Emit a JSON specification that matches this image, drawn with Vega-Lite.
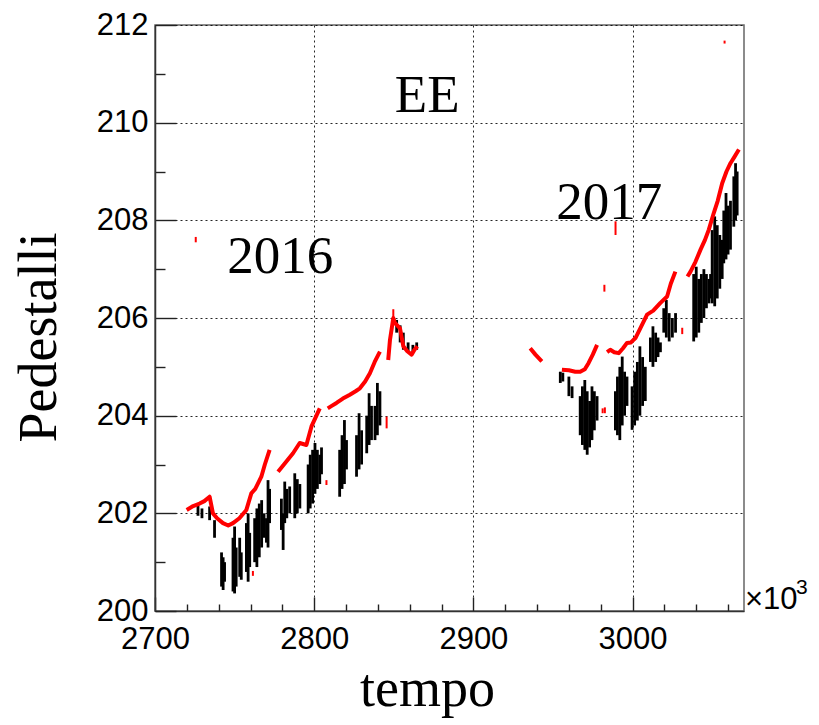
{
  "$schema": "https://vega.github.io/schema/vega-lite/v6.json",
  "autosize": "none",
  "width": 589,
  "height": 586,
  "padding": {"left": 155, "top": 25, "right": 75, "bottom": 114},
  "background": "white",
  "config": {
    "view": {"stroke": "#666", "strokeWidth": 1.5},
    "axis": {"labelColor": "black", "titleColor": "black", "domainColor": "#333", "tickColor": "#222", "titleFontWeight": "normal"}
  },
  "datasets": {
    "black": [
      {"t": 2727, "lo": 201.95, "hi": 202.15}, {"t": 2729.5, "lo": 201.9, "hi": 202.1},
      {"t": 2734.3, "lo": 201.86, "hi": 202.14}, {"t": 2737.4, "lo": 201.5, "hi": 201.86},
      {"t": 2741.8, "lo": 200.5, "hi": 201.2}, {"t": 2742.8, "lo": 200.43, "hi": 201.1}, {"t": 2743.7, "lo": 200.6, "hi": 201.0},
      {"t": 2749, "lo": 200.4, "hi": 201.5}, {"t": 2750, "lo": 200.36, "hi": 201.73}, {"t": 2751, "lo": 200.5, "hi": 201.3},
      {"t": 2753.2, "lo": 200.7, "hi": 201.5}, {"t": 2754.2, "lo": 200.64, "hi": 201.2},
      {"t": 2757.4, "lo": 200.8, "hi": 201.8}, {"t": 2758.5, "lo": 200.6, "hi": 202.0}, {"t": 2759.5, "lo": 200.9, "hi": 201.6},
      {"t": 2762.6, "lo": 201.0, "hi": 201.9}, {"t": 2764, "lo": 200.9, "hi": 202.1}, {"t": 2765.5, "lo": 201.1, "hi": 202.2},
      {"t": 2767, "lo": 201.3, "hi": 202.27}, {"t": 2768.5, "lo": 201.5, "hi": 202.0}, {"t": 2770, "lo": 201.4, "hi": 201.9},
      {"t": 2771, "lo": 201.3, "hi": 202.68}, {"t": 2772, "lo": 201.8, "hi": 202.5},
      {"t": 2779.4, "lo": 201.66, "hi": 202.3}, {"t": 2780.5, "lo": 201.25, "hi": 202.0}, {"t": 2781.5, "lo": 201.8, "hi": 202.65},
      {"t": 2782.8, "lo": 201.9, "hi": 202.5}, {"t": 2784.6, "lo": 202.0, "hi": 202.55},
      {"t": 2787.8, "lo": 201.9, "hi": 202.82}, {"t": 2789.4, "lo": 202.0, "hi": 202.7}, {"t": 2791, "lo": 202.1, "hi": 202.6},
      {"t": 2796.2, "lo": 202.0, "hi": 203.0}, {"t": 2797.5, "lo": 202.1, "hi": 203.2}, {"t": 2799, "lo": 202.2, "hi": 203.3},
      {"t": 2800.5, "lo": 202.4, "hi": 203.44}, {"t": 2802, "lo": 202.5, "hi": 203.3}, {"t": 2803.5, "lo": 202.6, "hi": 203.2}, {"t": 2804.6, "lo": 202.8, "hi": 203.35},
      {"t": 2816, "lo": 202.34, "hi": 203.3}, {"t": 2817.5, "lo": 202.5, "hi": 203.6}, {"t": 2819, "lo": 202.6, "hi": 203.91}, {"t": 2820.3, "lo": 202.9, "hi": 203.5},
      {"t": 2826.6, "lo": 202.75, "hi": 203.6}, {"t": 2828.2, "lo": 202.9, "hi": 204.05}, {"t": 2829.8, "lo": 203.0, "hi": 203.7},
      {"t": 2833, "lo": 203.23, "hi": 204.0}, {"t": 2834.5, "lo": 203.4, "hi": 204.46}, {"t": 2836, "lo": 203.5, "hi": 204.2},
      {"t": 2838.2, "lo": 203.5, "hi": 204.2}, {"t": 2839.7, "lo": 203.6, "hi": 204.67}, {"t": 2841.3, "lo": 203.8, "hi": 204.5},
      {"t": 2851.8, "lo": 205.7, "hi": 205.96}, {"t": 2854, "lo": 205.5, "hi": 205.85}, {"t": 2856, "lo": 205.35, "hi": 205.7},
      {"t": 2859, "lo": 205.3, "hi": 205.5}, {"t": 2862, "lo": 205.3, "hi": 205.45}, {"t": 2864.4, "lo": 205.35, "hi": 205.5},
      {"t": 2954.6, "lo": 204.67, "hi": 204.9}, {"t": 2956.2, "lo": 204.7, "hi": 204.88},
      {"t": 2960, "lo": 204.4, "hi": 204.8}, {"t": 2962, "lo": 204.36, "hi": 204.6},
      {"t": 2967.1, "lo": 203.6, "hi": 204.4}, {"t": 2968.5, "lo": 203.4, "hi": 204.6}, {"t": 2970, "lo": 203.3, "hi": 204.73},
      {"t": 2971.5, "lo": 203.2, "hi": 204.5}, {"t": 2973, "lo": 203.35, "hi": 204.3}, {"t": 2974.5, "lo": 203.5, "hi": 204.6},
      {"t": 2976, "lo": 203.7, "hi": 204.5}, {"t": 2977.7, "lo": 203.9, "hi": 204.4},
      {"t": 2989.2, "lo": 203.7, "hi": 204.5}, {"t": 2990.5, "lo": 203.6, "hi": 204.8}, {"t": 2992, "lo": 203.5, "hi": 205.0},
      {"t": 2993.5, "lo": 203.8, "hi": 205.21}, {"t": 2995, "lo": 204.0, "hi": 204.9}, {"t": 2996.5, "lo": 204.2, "hi": 204.8},
      {"t": 2999.7, "lo": 203.71, "hi": 204.6}, {"t": 3001.3, "lo": 203.8, "hi": 204.9}, {"t": 3003, "lo": 203.9, "hi": 205.1},
      {"t": 3004.6, "lo": 204.0, "hi": 205.42}, {"t": 3006.3, "lo": 204.2, "hi": 205.2}, {"t": 3008, "lo": 204.3, "hi": 205.0},
      {"t": 3011.2, "lo": 205.1, "hi": 205.6}, {"t": 3012.8, "lo": 205.0, "hi": 205.83}, {"t": 3014.5, "lo": 205.1, "hi": 205.7},
      {"t": 3016, "lo": 205.2, "hi": 205.6}, {"t": 3017.5, "lo": 205.3, "hi": 205.5},
      {"t": 3019.6, "lo": 205.7, "hi": 206.2}, {"t": 3021.2, "lo": 205.6, "hi": 206.37}, {"t": 3023, "lo": 205.52, "hi": 206.1},
      {"t": 3025, "lo": 205.6, "hi": 206.0}, {"t": 3027, "lo": 205.7, "hi": 206.1},
      {"t": 3038.4, "lo": 205.52, "hi": 206.9}, {"t": 3040, "lo": 205.6, "hi": 207.05}, {"t": 3041.6, "lo": 205.7, "hi": 206.8},
      {"t": 3043.2, "lo": 205.9, "hi": 206.9}, {"t": 3044.8, "lo": 206.0, "hi": 207.0}, {"t": 3046.4, "lo": 206.2, "hi": 206.9},
      {"t": 3048, "lo": 206.3, "hi": 206.8}, {"t": 3049, "lo": 206.4, "hi": 206.9},
      {"t": 3050, "lo": 206.3, "hi": 207.8}, {"t": 3051.6, "lo": 206.24, "hi": 208.08}, {"t": 3053.2, "lo": 206.4, "hi": 207.9},
      {"t": 3054.8, "lo": 206.6, "hi": 207.7}, {"t": 3056.3, "lo": 206.8, "hi": 207.6},
      {"t": 3057.3, "lo": 207.12, "hi": 208.2}, {"t": 3058.7, "lo": 207.2, "hi": 208.56}, {"t": 3060, "lo": 207.3, "hi": 208.3}, {"t": 3061.5, "lo": 207.4, "hi": 208.4},
      {"t": 3063.6, "lo": 207.87, "hi": 208.9}, {"t": 3064.7, "lo": 208.0, "hi": 209.17}, {"t": 3065.7, "lo": 208.1, "hi": 209.0}
    ],
    "red": [
      {"s": "a", "t": 2719.9, "p": 202.07}, {"s": "a", "t": 2724, "p": 202.15}, {"s": "a", "t": 2728, "p": 202.2}, {"s": "a", "t": 2731, "p": 202.25},
      {"s": "a", "t": 2734.3, "p": 202.34}, {"s": "a", "t": 2736.4, "p": 202.0}, {"s": "a", "t": 2739, "p": 201.9}, {"s": "a", "t": 2742.7, "p": 201.8},
      {"s": "a", "t": 2746, "p": 201.75}, {"s": "a", "t": 2749, "p": 201.8}, {"s": "a", "t": 2753, "p": 201.9}, {"s": "a", "t": 2757.4, "p": 202.07},
      {"s": "a", "t": 2760.5, "p": 202.41}, {"s": "a", "t": 2763, "p": 202.5}, {"s": "a", "t": 2766.8, "p": 202.75}, {"s": "a", "t": 2769, "p": 203.0}, {"s": "a", "t": 2772, "p": 203.3},
      {"s": "b", "t": 2777.3, "p": 202.85}, {"s": "b", "t": 2781, "p": 203.0}, {"s": "b", "t": 2786.7, "p": 203.23}, {"s": "b", "t": 2790.9, "p": 203.44},
      {"s": "b", "t": 2795.1, "p": 203.4}, {"s": "b", "t": 2798.3, "p": 203.78}, {"s": "b", "t": 2803.5, "p": 204.15},
      {"s": "c", "t": 2808.5, "p": 204.15}, {"s": "c", "t": 2811, "p": 204.2}, {"s": "c", "t": 2814, "p": 204.26}, {"s": "c", "t": 2818, "p": 204.35},
      {"s": "c", "t": 2822.4, "p": 204.43}, {"s": "c", "t": 2826, "p": 204.5}, {"s": "c", "t": 2828.7, "p": 204.56}, {"s": "c", "t": 2832, "p": 204.7},
      {"s": "c", "t": 2835, "p": 204.87}, {"s": "c", "t": 2838, "p": 205.1}, {"s": "c", "t": 2841.3, "p": 205.31},
      {"s": "d", "t": 2846.5, "p": 205.14}, {"s": "d", "t": 2847.6, "p": 205.55}, {"s": "d", "t": 2849.7, "p": 206.0}, {"s": "d", "t": 2850.7, "p": 205.9},
      {"s": "d", "t": 2853.9, "p": 205.79}, {"s": "d", "t": 2856, "p": 205.42}, {"s": "d", "t": 2858.5, "p": 205.32}, {"s": "d", "t": 2861.2, "p": 205.25},
      {"s": "d", "t": 2863, "p": 205.35}, {"s": "d", "t": 2864.8, "p": 205.42},
      {"s": "e", "t": 2935.7, "p": 205.38}, {"s": "e", "t": 2939, "p": 205.25}, {"s": "e", "t": 2943, "p": 205.11},
      {"s": "f", "t": 2955.6, "p": 204.94}, {"s": "f", "t": 2960, "p": 204.93}, {"s": "f", "t": 2964, "p": 204.9}, {"s": "f", "t": 2967.1, "p": 204.9},
      {"s": "f", "t": 2970, "p": 204.95}, {"s": "f", "t": 2972.4, "p": 205.08}, {"s": "f", "t": 2975, "p": 205.25}, {"s": "f", "t": 2977.7, "p": 205.45},
      {"s": "g", "t": 2984, "p": 205.3}, {"s": "g", "t": 2986, "p": 205.35}, {"s": "g", "t": 2988.5, "p": 205.3}, {"s": "g", "t": 2991.3, "p": 205.28},
      {"s": "g", "t": 2994, "p": 205.38}, {"s": "g", "t": 2996.5, "p": 205.49}, {"s": "g", "t": 2999, "p": 205.5}, {"s": "g", "t": 3001.8, "p": 205.59},
      {"s": "g", "t": 3005, "p": 205.8}, {"s": "g", "t": 3009.1, "p": 206.07}, {"s": "g", "t": 3013, "p": 206.15}, {"s": "g", "t": 3017.5, "p": 206.31},
      {"s": "g", "t": 3021.7, "p": 206.44}, {"s": "g", "t": 3024, "p": 206.7}, {"s": "g", "t": 3026.9, "p": 206.95},
      {"s": "h", "t": 3034.5, "p": 206.85}, {"s": "h", "t": 3036.4, "p": 206.95}, {"s": "h", "t": 3039.5, "p": 207.15}, {"s": "h", "t": 3042.7, "p": 207.4},
      {"s": "h", "t": 3045.5, "p": 207.6}, {"s": "h", "t": 3047.9, "p": 207.81}, {"s": "h", "t": 3051, "p": 208.15}, {"s": "h", "t": 3053.5, "p": 208.4},
      {"s": "h", "t": 3056.3, "p": 208.76}, {"s": "h", "t": 3059, "p": 209.0}, {"s": "h", "t": 3061.5, "p": 209.17}, {"s": "h", "t": 3064, "p": 209.3},
      {"s": "h", "t": 3066.8, "p": 209.45}
    ],
    "redbits": [
      {"t": 2725.6, "lo": 207.55, "hi": 207.66}, {"t": 2989.3, "lo": 207.7, "hi": 207.98}, {"t": 2982.3, "lo": 206.54, "hi": 206.68},
      {"t": 2845.5, "lo": 203.74, "hi": 203.98}, {"t": 2807.7, "lo": 202.58, "hi": 202.68}, {"t": 2761.5, "lo": 200.72, "hi": 200.82},
      {"t": 2981.2, "lo": 204.05, "hi": 204.15}, {"t": 2982.6, "lo": 204.05, "hi": 204.17}, {"t": 3031.2, "lo": 205.67, "hi": 205.8},
      {"t": 3057.8, "lo": 211.62, "hi": 211.68}, {"t": 2849.7, "lo": 206.02, "hi": 206.18}
    ],
    "notes": [
      {"txt": "EE", "t": 2871, "p": 210.22},
      {"txt": "2016", "t": 2778.7, "p": 206.93},
      {"txt": "2017", "t": 2985.4, "p": 208.03}
    ]
  },
  "layer": [
    {
      "data": {"name": "black"},
      "mark": {"type": "rule", "color": "black", "strokeWidth": 2.8},
      "encoding": {
        "x": {"field": "t", "type": "quantitative", "scale": {"domain": [2700, 3070], "nice": false, "zero": false},
          "axis": {"orient": "bottom", "tickCount": 200,
            "values": [2700, 2720, 2740, 2760, 2780, 2800, 2820, 2840, 2860, 2880, 2900, 2920, 2940, 2960, 2980, 3000, 3020, 3040, 3060],
            "labelExpr": "abs(datum.value - round(datum.value / 100) * 100) < 0.5 ? format(datum.value, 'd') : ''", "labelOverlap": false,
            "grid": true, "gridDash": [2, 3], "gridColor": "#000",
            "gridOpacity": {"condition": {"test": "abs(datum.value - round(datum.value / 100) * 100) < 0.5", "value": 0.85}, "value": 0},
            "ticks": true, "tickSize": {"condition": {"test": "abs(datum.value - round(datum.value / 100) * 100) < 0.5", "value": -14}, "value": -7}, "tickWidth": 1.4,
            "domainWidth": 1.5, "labelFont": "Liberation Sans", "labelFontSize": 31, "labelPadding": 27,
            "labelBaseline": "top", "labelFlush": false, "format": "d",
            "title": "tempo", "titleFont": "Liberation Serif", "titleFontSize": 54, "titleX": 272, "titleY": 94, "titleBaseline": "alphabetic", "titleAnchor": "start", "titleAlign": "center"}},
        "y": {"field": "lo", "type": "quantitative", "scale": {"domain": [200, 212], "nice": false, "zero": false},
          "axis": {"orient": "left", "tickCount": 200,
            "values": [200, 200.5, 201, 201.5, 202, 202.5, 203, 203.5, 204, 204.5, 205, 205.5, 206, 206.5, 207, 207.5, 208, 208.5, 209, 209.5, 210, 210.5, 211, 211.5, 212],
            "labelExpr": "abs(datum.value - round(datum.value / 2) * 2) < 0.01 ? format(datum.value, 'd') : ''", "labelOverlap": false,
            "grid": true, "gridDash": [2, 3], "gridColor": "#000",
            "gridOpacity": {"condition": {"test": "abs(datum.value - round(datum.value / 2) * 2) < 0.01", "value": 0.85}, "value": 0},
            "ticks": true, "tickSize": {"condition": {"test": "abs(datum.value - round(datum.value / 2) * 2) < 0.01", "value": -21}, "value": -10}, "tickWidth": 1.4,
            "domainWidth": 1.5, "labelFont": "Liberation Sans", "labelFontSize": 31, "labelPadding": 28,
            "labelFlush": false, "format": "d",
            "title": "Pedestalli", "titleFont": "Liberation Serif", "titleFontSize": 54, "titleX": -100, "titleY": 312, "titleAngle": 270, "titleBaseline": "alphabetic", "titleAlign": "center"}},
        "y2": {"field": "hi"}
      }
    },
    {
      "data": {"name": "red"},
      "mark": {"type": "line", "color": "#ff0000", "strokeWidth": 4, "strokeJoin": "round", "strokeCap": "butt"},
      "encoding": {
        "x": {"field": "t", "type": "quantitative"},
        "y": {"field": "p", "type": "quantitative"},
        "detail": {"field": "s"}
      }
    },
    {
      "data": {"name": "redbits"},
      "mark": {"type": "rule", "color": "#ff0000", "strokeWidth": 2},
      "encoding": {
        "x": {"field": "t", "type": "quantitative"},
        "y": {"field": "lo", "type": "quantitative"},
        "y2": {"field": "hi"}
      }
    },
    {
      "data": {"name": "notes"},
      "mark": {"type": "text", "font": "Liberation Serif", "fontSize": 53, "color": "black", "align": "center", "baseline": "alphabetic"},
      "encoding": {
        "x": {"field": "t", "type": "quantitative"},
        "y": {"field": "p", "type": "quantitative"},
        "text": {"field": "txt"}
      }
    },
    {
      "data": {"values": [{"txt": "×10", "t": 3070, "p": 200}]},
      "mark": {"type": "text", "font": "Liberation Sans", "fontSize": 31, "color": "black", "align": "left", "baseline": "alphabetic", "dx": 1, "dy": -2},
      "encoding": {
        "x": {"field": "t", "type": "quantitative"},
        "y": {"field": "p", "type": "quantitative"},
        "text": {"field": "txt"}
      }
    },
    {
      "data": {"values": [{"txt": "3", "t": 3070, "p": 200}]},
      "mark": {"type": "text", "font": "Liberation Sans", "fontSize": 21, "color": "black", "align": "left", "baseline": "alphabetic", "dx": 52, "dy": -17},
      "encoding": {
        "x": {"field": "t", "type": "quantitative"},
        "y": {"field": "p", "type": "quantitative"},
        "text": {"field": "txt"}
      }
    }
  ]
}
